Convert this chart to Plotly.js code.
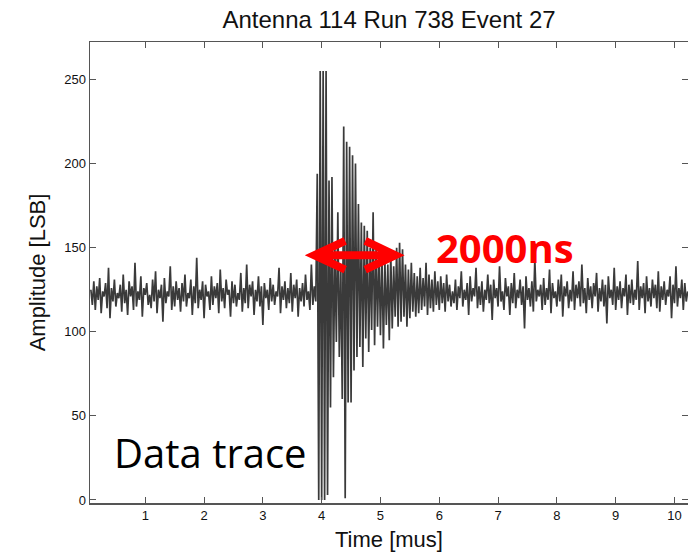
<!DOCTYPE html>
<html>
<head>
<meta charset="utf-8">
<script src="https://cdn.plot.ly/plotly-3.0.1.min.js"></script>
<style>
  html, body { margin: 0; padding: 0; background: #fff; overflow: hidden; }
  #chart { width: 688px; height: 553px; }
</style>
</head>
<body>
<div id="chart"></div>
<script>
// Antenna 114, run 738, event 27: raw ADC trace (LSB) sampled every 25 ns
const sampleStart = 0.075;   // first sample time [mus]
const sampleStep = 0.025;    // sampling interval [mus]

// pre-trigger noise
const preNoise = [
  125,116,130,113,127,119,132,111,124,121,129,114,138,108,126,118,131,115,123,120,
  128,112,134,117,125,110,130,121,127,113,141,115,124,119,133,109,126,122,129,116,
  122,114,131,118,136,111,125,120,128,106,132,117,124,121,139,113,127,115,130,119,
  126,112,129,118,134,115,123,120,131,110,127,117,144,114,125,119,130,108,128,121,
  124,113,133,116,127,120,129,111,137,118,126,114,131,122,125,109,130,117,128,115,
  123,119,135,112,126,117,140,114,128,121,130,110,125,118,133,115,127,104,129,120,
  125,113,132,118,128,116,124,121,138,111,127,119,130,114,126,117,135,112,128,120,
  131,109,126,118,129,115,134,119,124,113,140,116,127
];

// pulse and ringing, 3.900 - 6.200 mus (ADC saturates at 0 and 255)
const pulse = [
  118,194,0,255,0,255,0,255,3,190,
  55,192,73,150,94,171,85,140,60,222,
  1,213,58,210,58,205,77,200,85,176,
  91,165,79,163,96,160,88,150,101,171,
  92,150,103,148,98,145,90,142,104,140,
  95,147,102,139,109,150,103,153,106,149,
  109,140,103,137,108,141,112,135,109,133,
  111,138,113,132,115,141,110,134,114,131,
  112,136,116,130,113,133,117,129,112,134,
  118,128,115
];

// post-pulse noise
const postNoise = [
  124,117,131,113,127,120,136,115,125,119,129,110,133,118,126,121,138,114,127,116,
  130,112,125,119,134,117,128,107,131,120,126,115,139,118,124,113,132,121,127,110,
  129,117,135,114,125,120,131,116,127,102,133,119,126,115,130,112,143,118,125,121,
  128,113,132,116,126,119,137,111,129,120,124,115,131,118,134,109,127,121,130,114,
  125,118,136,113,128,120,130,115,140,117,126,111,132,119,127,114,129,121,135,112,
  126,118,131,115,128,105,133,120,125,116,138,113,127,119,130,114,126,121,134,110,
  128,117,131,116,125,119,142,113,127,120,129,111,133,118,126,115,131,120,128,114,
  136,112,127,119,130,116,125,121,133,108,128,117,139,115,126,120,131,113,129,118,
  124
];

const xTickVals = [1,2,3,4,5,6,7,8,9,10];
const yTickVals = [0,50,100,150,200,250];

const amplitude = preNoise.concat(pulse, postNoise);
const time = amplitude.map((_, i) => +(sampleStart + i * sampleStep).toFixed(3));

const trace = {
  x: time,
  y: amplitude,
  type: 'scatter',
  mode: 'lines',
  line: { color: 'rgba(15,15,15,0.82)', width: 1.7 },
  hoverinfo: 'x+y'
};

const axisFont = { family: 'Liberation Sans, Arial, sans-serif', size: 13, color: '#111' };
const red = '#ff0000';

const layout = {
  width: 688,
  height: 553,
  margin: { l: 90, r: 0, t: 42, b: 50 },
  paper_bgcolor: '#fff',
  plot_bgcolor: '#fff',
  showlegend: false,
  title: {
    text: 'Antenna 114 Run 738 Event 27',
    font: { family: 'Liberation Sans, Arial, sans-serif', size: 24, color: '#111' },
    xref: 'paper', x: 0.5, xanchor: 'center',
    yref: 'container', y: 0.964, yanchor: 'middle'
  },
  xaxis: {
    range: [0.06, 10.23],
    tickvals: xTickVals,
    ticktext: xTickVals.map(String),
    ticks: 'inside', ticklen: 6, tickwidth: 1, tickcolor: '#555',
    showline: true, linecolor: '#555', linewidth: 1.5, mirror: 'ticks',
    showgrid: false, zeroline: false,
    tickfont: axisFont,
    title: { text: 'Time [mus]', font: { family: 'Liberation Sans, Arial, sans-serif', size: 22, color: '#111' }, standoff: 9 }
  },
  yaxis: {
    range: [-1.8, 272.3],
    tickvals: yTickVals,
    ticktext: yTickVals.map(String),
    ticks: 'inside', ticklen: 6, tickwidth: 1, tickcolor: '#555',
    showline: true, linecolor: '#555', linewidth: 1.5, mirror: 'ticks',
    showgrid: false, zeroline: false,
    tickfont: axisFont,
    title: { text: 'Amplitude [LSB]', font: { family: 'Liberation Sans, Arial, sans-serif', size: 22, color: '#111' }, standoff: 12 }
  },
  shapes: [
    // double-headed arrow marking the 2000 ns ringing
    { type: 'line', xref: 'x', yref: 'y', x0: 3.92, y0: 145.5, x1: 5.20, y1: 145.5,
      line: { color: red, width: 8 } },
    { type: 'path', xref: 'x', yref: 'y', path: 'M 4.40 154.0 L 3.874 145.5 L 4.40 137.0',
      line: { color: red, width: 8 } },
    { type: 'path', xref: 'x', yref: 'y', path: 'M 4.74 154.0 L 5.252 145.5 L 4.74 137.0',
      line: { color: red, width: 8 } }
  ],
  annotations: [
    { text: '2000ns', xref: 'x', yref: 'y', x: 7.12, y: 150, showarrow: false,
      font: { family: 'Open Sans, sans-serif', size: 40, color: red, weight: 'bold' } },
    { text: 'Data trace', xref: 'x', yref: 'y', x: 2.105, y: 28, showarrow: false,
      font: { family: 'Open Sans, sans-serif', size: 40, color: '#000' } }
  ]
};

Plotly.newPlot('chart', [trace], layout, { displayModeBar: false, staticPlot: true });
</script>
</body>
</html>
